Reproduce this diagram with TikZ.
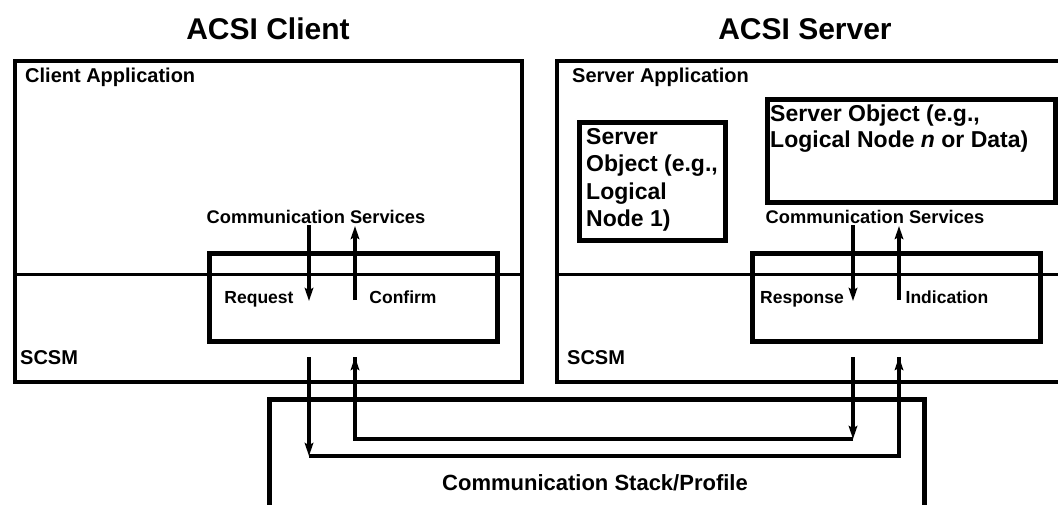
\documentclass[tikz,border=0pt]{standalone}
\usepackage{fontspec}
\setmainfont{Liberation Sans}
\usetikzlibrary{arrows.meta}
\begin{document}
\begin{tikzpicture}[x=1pt,y=-1pt,
  title/.style={font=\bfseries\fontsize{30}{32}\selectfont, inner sep=0pt, anchor=base},
  applbl/.style={font=\bfseries\fontsize{20}{22}\selectfont, inner sep=0pt, anchor=base west},
  lbl/.style={font=\bfseries\fontsize{17.5}{19}\selectfont, inner sep=0pt, anchor=base},
  svc/.style={font=\bfseries\fontsize{18.3}{20}\selectfont, inner sep=0pt, anchor=base},
  big/.style={font=\bfseries\fontsize{22}{24}\selectfont, inner sep=0pt, anchor=base},
  objtxt/.style={font=\bfseries\fontsize{23}{27.5}\selectfont, inner sep=0pt, align=left, anchor=north west},
  outerbox/.style={draw, line width=3.5pt, anchor=north west, inner sep=0pt},
  innerbox/.style={draw, line width=5pt, anchor=north west, inner sep=0pt},
  sep/.style={draw, line width=2.5pt},
  conn/.style={line width=4pt},
  arr/.style={line width=4pt, -{Stealth[length=13pt,width=8.5pt,inset=2pt]}}]
\useasboundingbox (0,0) rectangle (1058,504);
\clip (0,0) rectangle (1058,504);
\fill[white] (0,0) rectangle (1058,504);

% titles
\node[title] (tclient) at (268,39) {ACSI Client};
\node[title] (tserver) at (805,39) {ACSI Server};

% client
\node[outerbox, minimum width=507pt, minimum height=321pt] (client) at (13,59) {};
\draw[sep] (13,274.5) -- (520,274.5);
\node[applbl] (capp) at (25,82) {Client Application};
\node[innerbox, minimum width=288pt, minimum height=88pt] (cbox) at (207,251) {};
\node[svc] (ccs) at (316,223) {Communication Services};
\node[lbl] (creq) at (259,303) {Request};
\node[lbl] (cconf) at (403,303) {Confirm};
\node[applbl] (cscsm) at (20,364) {SCSM};

% server
\node[outerbox, minimum width=560pt, minimum height=321pt] (server) at (555,59) {};
\draw[sep] (555,274.5) -- (1115,274.5);
\node[applbl] (sapp) at (572,82) {Server Application};
\node[innerbox, minimum width=146pt, minimum height=118pt] (so1) at (577,120) {};
\node[objtxt] (so1t) at (586,128) {Server\\Object (e.g.,\\Logical\\Node 1)};
\node[innerbox, minimum width=288pt, minimum height=103pt] (son) at (765,97) {};
\node[objtxt, font=\bfseries\fontsize{23}{26}\selectfont] (sont) at (770,105) {Server Object (e.g.,\\Logical Node \textit{n} or Data)};
\node[innerbox, minimum width=288pt, minimum height=88pt] (sbox) at (750,251) {};
\node[svc] (scs) at (875,223) {Communication Services};
\node[lbl] (sresp) at (802,303) {Response};
\node[lbl] (sind) at (947,303) {Indication};
\node[applbl] (sscsm) at (567,364) {SCSM};

% communication stack
\node[innerbox, minimum width=655pt, minimum height=140pt] (stack) at (267,397) {};
\node[big] (stackt) at (595,490) {Communication Stack/Profile};

% upper arrows, client
\coordinate (c1a) at (309,225); \coordinate (c1b) at (309,301);
\coordinate (c2a) at (355,300); \coordinate (c2b) at (355,226);
\draw[arr] (c1a) -- (c1b);
\draw[arr] (c2a) -- (c2b);
% upper arrows, server
\coordinate (s1a) at (853,225); \coordinate (s1b) at (853,301);
\coordinate (s2a) at (899,300); \coordinate (s2b) at (899,226);
\draw[arr] (s1a) -- (s1b);
\draw[arr] (s2a) -- (s2b);

% lower paths
\coordinate (rq0) at (309,357); \coordinate (rq1) at (309,456);
\coordinate (rq2) at (899,456); \coordinate (rq3) at (899,357);
\draw[conn, line join=miter] (rq1) -- (rq2) -- (rq3);
\draw[arr] (rq0) -- (rq1);
\draw[arr] (rq2) -- (rq3);

\coordinate (rs0) at (853,357); \coordinate (rs1) at (853,439);
\coordinate (rs2) at (355,439); \coordinate (rs3) at (355,357);
\draw[conn, line join=miter] (rs1) -- (rs2) -- (rs3);
\draw[arr] (rs0) -- (rs1);
\draw[arr] (rs2) -- (rs3);
\end{tikzpicture}
\end{document}
